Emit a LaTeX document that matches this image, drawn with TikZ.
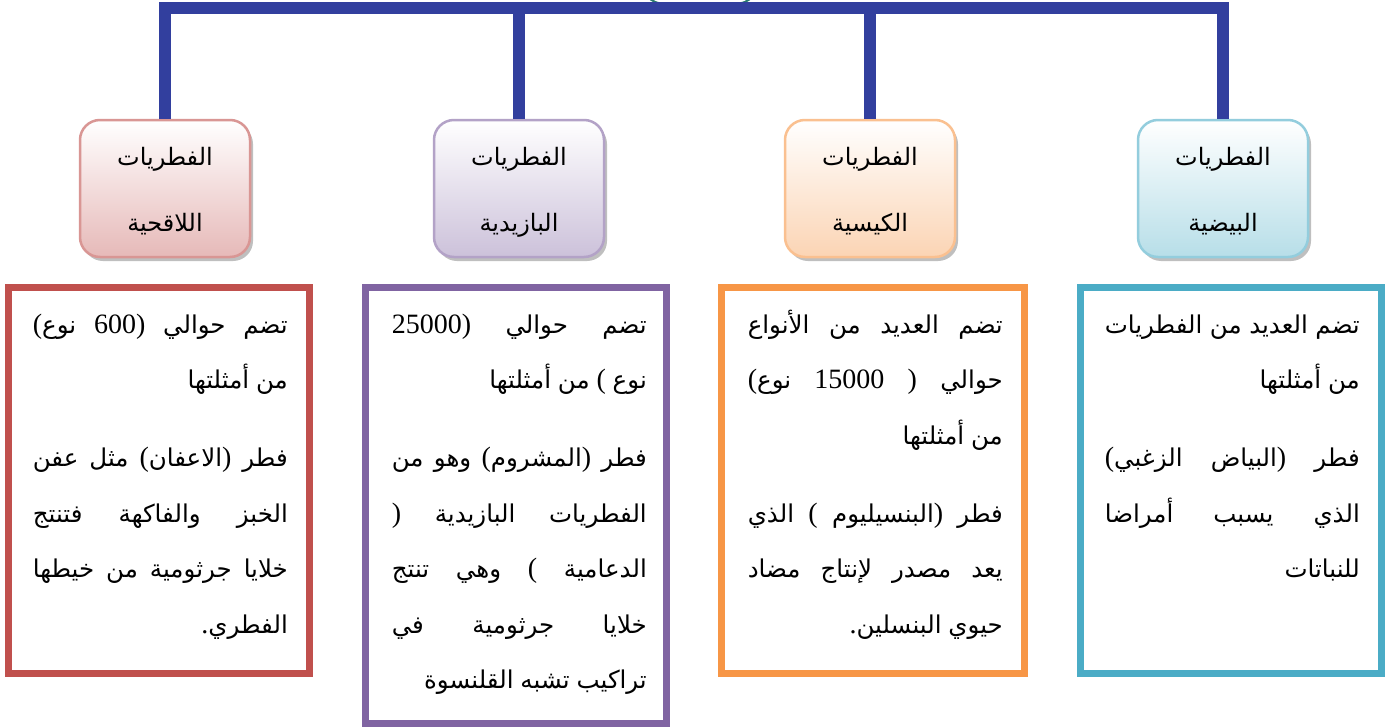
\documentclass[tikz,border=0pt]{standalone}
\usepackage{fontspec}
\usetikzlibrary{shadows}
\TeXXeTstate=1
\newfontfamily\arfont[Script=Arabic]{DejaVu Sans}
\newfontfamily\latfont{Liberation Serif}
\newcommand\AR{\arfont\fontsize{24.5}{29}\selectfont\spaceskip=0.28em plus 1fil\relax}
\newcommand\HAR{\arfont\fontsize{24}{28}\selectfont}
\newcommand\dg[1]{\kern0pt\relax{\latfont\fontsize{28}{30}\selectfont #1}\kern0pt\relax}
\newcommand\op{\dg{)}}% logical opening paren, shown mirrored
\newcommand\cp{\dg{(}}% logical closing paren, shown mirrored
\newdimen\LW \LW=255pt
\newcommand\jl[1]{\hbox to\LW{\beginR #1\endR}}
\newcommand\rl[1]{\hbox to\LW{\hfill\beginR #1\endR}}
\newcommand\hdr[2]{\vtop{\HAR\baselineskip=66pt\lineskiplimit=-1000pt
  \hbox to 170pt{\hss\beginR #1\endR\hss}\hbox to 170pt{\hss\beginR #2\endR\hss}}}
\definecolor{barblue}{HTML}{323F9E}
\definecolor{rootteal}{HTML}{2A7A6E}
\definecolor{cRed}{HTML}{C0504D}
\definecolor{cPur}{HTML}{8064A2}
\definecolor{cOra}{HTML}{F79646}
\definecolor{cBlu}{HTML}{4BACC6}
\definecolor{hRedB}{HTML}{D99694}
\definecolor{hRedF}{HTML}{E6B9B8}
\definecolor{hPurB}{HTML}{B3A2C7}
\definecolor{hPurF}{HTML}{CCC1DA}
\definecolor{hOraB}{HTML}{FAC090}
\definecolor{hOraF}{HTML}{FBD4B4}
\definecolor{hBluB}{HTML}{93CDDD}
\definecolor{hBluF}{HTML}{B7DEE8}
\begin{document}
\begin{tikzpicture}[x=1pt,y=-1pt,
  hbox/.style={rectangle, rounded corners=20pt, line width=2.5pt, minimum width=170pt, minimum height=137pt, inner sep=0pt, top color=white,
    drop shadow={shadow xshift=3pt, shadow yshift=-4pt, fill=black!55, opacity=0.45}},
  tbox/.style={rectangle, line width=7pt, minimum width=301pt, minimum height=386pt, inner sep=0pt, fill=white},
  lab/.style={inner sep=0pt, anchor=base},
  txt/.style={inner sep=0pt, anchor=base east},
  bar/.style={draw=barblue, line width=11.5pt, line join=miter}]
\fill[white] (0,0) rectangle (1392,728);
\useasboundingbox (0,0) rectangle (1392,728);
% partially visible root shape at the top edge
\begin{scope}
\clip (0,0) rectangle (1392,728);
\draw[rootteal, line width=2pt, rounded corners=25pt] (640,-60) rectangle (760,4);
\end{scope}
% header boxes
\node[hbox, draw=hRedB, bottom color=hRedF] (h1) at (165,188.5) {};
\node[hbox, draw=hPurB, bottom color=hPurF] (h2) at (519,188.5) {};
\node[hbox, draw=hOraB, bottom color=hOraF] (h3) at (870,188.5) {};
\node[hbox, draw=hBluB, bottom color=hBluF] (h4) at (1223,188.5) {};
\node[lab] (l1) at (165,165) {\hdr{الفطريات}{اللاقحية}};
\node[lab] (l2) at (519,165) {\hdr{الفطريات}{البازيدية}};
\node[lab] (l3) at (870,165) {\hdr{الفطريات}{الكيسية}};
\node[lab] (l4) at (1223,165) {\hdr{الفطريات}{البيضية}};
% connectors
\coordinate (hub) at (694,8);
\draw[bar] (h1.north) |- (hub) -| (h4.north);
\draw[bar] (h2.north) -- (h2.north |- hub);
\draw[bar] (h3.north) -- (h3.north |- hub);
% text boxes
\node[tbox, draw=cRed] (b1) at (159,480.5) {};
\node[tbox, draw=cPur, minimum height=436pt] (b2) at (516,505.5) {};
\node[tbox, draw=cOra, minimum width=303pt] (b3) at (873,480.5) {};
\node[tbox, draw=cBlu] (b4) at (1231,480.5) {};
% texts
\node[txt] (t1) at (288,333) {\vtop{\AR\baselineskip=55.5pt\lineskiplimit=-1000pt
\jl{تضم حوالي \op\dg{600} نوع\cp}
\rl{من أمثلتها}
\vskip 22.5pt
\jl{فطر \op الاعفان\cp{} مثل عفن}
\jl{الخبز والفاكهة فتنتج}
\jl{خلايا جرثومية من خيطها}
\rl{الفطري\dg{.}}}};
\node[txt] (t2) at (647,333) {\vtop{\AR\baselineskip=55.5pt\lineskiplimit=-1000pt
\jl{تضم حوالي \op\dg{25000}}
\rl{نوع \cp{} من أمثلتها}
\vskip 22.5pt
\jl{فطر \op المشروم\cp{} وهو من}
\jl{الفطريات البازيدية \op}
\jl{الدعامية \cp{} وهي تنتج}
\jl{خلايا جرثومية في}
\rl{تراكيب تشبه القلنسوة}}};
\node[txt] (t3) at (1003,333) {\vtop{\AR\baselineskip=55.5pt\lineskiplimit=-1000pt
\jl{تضم العديد من الأنواع}
\jl{حوالي \op{} \dg{15000} نوع\cp}
\rl{من أمثلتها}
\vskip 22.5pt
\jl{فطر \op البنسيليوم \cp{} الذي}
\jl{يعد مصدر لإنتاج مضاد}
\rl{حيوي البنسلين\dg{.}}}};
\node[txt] (t4) at (1360,333) {\vtop{\AR\baselineskip=55.5pt\lineskiplimit=-1000pt
\jl{تضم العديد من الفطريات}
\rl{من أمثلتها}
\vskip 22.5pt
\jl{فطر \op البياض الزغبي\cp}
\jl{الذي يسبب أمراضا}
\rl{للنباتات}}};
\end{tikzpicture}
\end{document}
